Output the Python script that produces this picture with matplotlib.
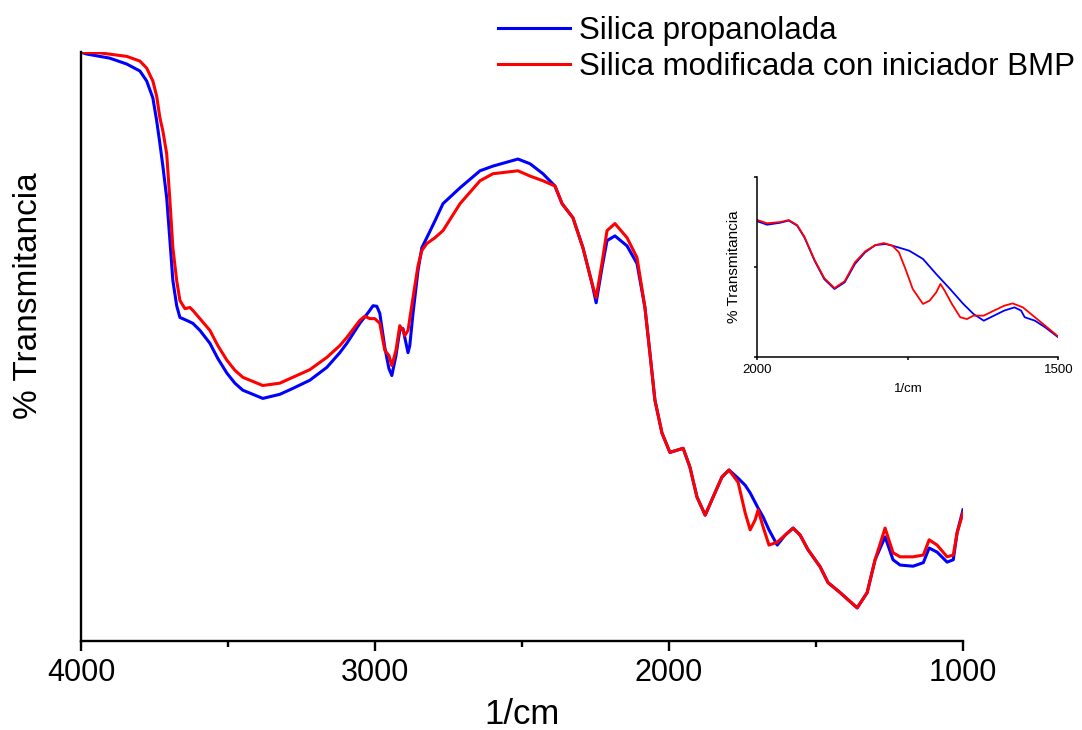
import numpy as np
import matplotlib
matplotlib.use("Agg")
import matplotlib.pyplot as plt
from matplotlib.ticker import MultipleLocator

plt.rcParams['font.family'] = ['Liberation Sans', 'DejaVu Sans']

# main spectrum, wavenumber (1/cm) vs transmittance (arb. %)
wn_blue = [4000, 3981, 3903, 3845, 3800, 3777, 3756, 3743, 3732, 3722, 3709, 3698, 3688, 3675,
           3664, 3641, 3620, 3596, 3562, 3535, 3504, 3477, 3450, 3382, 3324, 3280, 3222, 3164,
           3120, 3096, 3052, 3024, 3007, 2994, 2984, 2967, 2953, 2943, 2929, 2916, 2905, 2899,
           2888, 2882, 2871, 2854, 2841, 2824, 2796, 2769, 2711, 2643, 2599, 2514, 2473, 2429,
           2388, 2364, 2327, 2293, 2262, 2248, 2228, 2211, 2184, 2143, 2109, 2082, 2065, 2048,
           2024, 1997, 1952, 1929, 1905, 1877, 1850, 1820, 1796, 1765, 1741, 1724, 1697, 1680,
           1660, 1632, 1605, 1578, 1554, 1527, 1486, 1459, 1418, 1360, 1326, 1299, 1265, 1238,
           1214, 1170, 1135, 1115, 1088, 1054, 1033, 1020, 1000]
t_blue = [99.8, 99.5, 98.8, 97.8, 96.6, 94.9, 92.0, 88.1, 84.2, 80.4, 75.0, 67.7, 60.9, 56.6,
          54.6, 54.1, 53.6, 52.4, 50.2, 47.6, 45.1, 43.4, 42.2, 40.8, 41.5, 42.5, 43.9, 46.1,
          48.6, 50.2, 53.6, 55.4, 56.6, 56.5, 55.3, 49.5, 45.9, 44.7, 48.1, 52.4, 52.7, 51.2,
          48.6, 49.8, 55.3, 62.6, 66.5, 68.2, 71.1, 74.0, 76.7, 79.6, 80.4, 81.6, 80.8, 79.1,
          77.0, 74.0, 71.6, 66.5, 60.4, 57.1, 63.1, 67.7, 68.5, 66.8, 63.8, 56.3, 48.5, 40.5,
          34.9, 31.6, 32.3, 29.1, 24.0, 20.9, 24.0, 27.4, 28.6, 27.2, 26.0, 24.7, 22.1, 20.6,
          18.4, 15.8, 17.5, 18.7, 17.5, 15.0, 12.1, 9.4, 7.7, 5.1, 7.7, 13.3, 17.2, 13.3,
          12.4, 12.2, 12.8, 15.3, 14.6, 12.9, 13.3, 17.9, 21.8]

wn_red = [4000, 3937, 3845, 3800, 3777, 3756, 3743, 3732, 3722, 3709, 3698, 3688, 3675, 3664,
          3647, 3630, 3620, 3596, 3562, 3535, 3504, 3477, 3450, 3382, 3324, 3280, 3222, 3164,
          3120, 3096, 3052, 3035, 3018, 3001, 2984, 2967, 2953, 2943, 2929, 2916, 2905, 2899,
          2888, 2871, 2854, 2841, 2824, 2796, 2769, 2711, 2643, 2599, 2514, 2473, 2429, 2388,
          2364, 2327, 2293, 2262, 2248, 2228, 2211, 2184, 2143, 2109, 2082, 2065, 2048, 2024,
          1997, 1952, 1929, 1905, 1877, 1850, 1820, 1796, 1765, 1741, 1724, 1707, 1697, 1680,
          1660, 1632, 1605, 1578, 1554, 1527, 1486, 1459, 1418, 1360, 1326, 1299, 1265, 1238,
          1214, 1170, 1135, 1115, 1088, 1054, 1033, 1020, 1000]
t_red = [99.8, 99.7, 99.1, 98.3, 97.1, 94.9, 92.3, 88.6, 86.4, 82.5, 74.5, 66.5, 60.9, 57.5,
         56.1, 56.3, 55.8, 54.4, 52.4, 49.8, 47.3, 45.6, 44.4, 43.0, 43.4, 44.4, 45.7, 47.8,
         49.8, 51.2, 54.1, 54.8, 54.4, 54.4, 53.6, 49.0, 48.1, 46.4, 49.0, 53.2, 52.4, 51.5,
         52.4, 58.0, 63.4, 66.0, 67.2, 68.2, 69.4, 74.0, 77.9, 79.1, 79.6, 78.7, 77.9, 77.0,
         74.0, 71.6, 66.5, 60.4, 58.0, 63.9, 69.4, 70.6, 68.2, 64.8, 56.3, 48.5, 40.5, 34.9,
         31.6, 32.3, 29.1, 24.0, 20.9, 24.0, 27.4, 28.6, 26.5, 21.3, 18.4, 20.1, 21.8, 18.9,
         15.8, 16.3, 17.5, 18.7, 17.5, 15.0, 12.1, 9.4, 7.7, 5.1, 7.7, 13.3, 18.7, 14.5,
         13.8, 13.8, 14.1, 16.7, 15.8, 13.8, 14.1, 17.9, 21.3]

# inset: 2000-1500 1/cm rescaled
wn_in_blue = [2000, 1984, 1962, 1948, 1934, 1922, 1905, 1889, 1872, 1855, 1838, 1821, 1804, 1787,
              1770, 1748, 1725, 1703, 1680, 1658, 1641, 1624, 1607, 1590, 1573, 1562, 1556, 1539,
              1522, 1500]
t_in_blue = [75.2, 73.3, 74.4, 75.6, 72.8, 66.3, 53.3, 43.1, 37.6, 41.3, 51.5, 58.0, 62.0, 62.6,
             61.1, 58.9, 54.3, 45.9, 37.6, 29.3, 23.7, 20.0, 22.8, 25.6, 27.4, 25.6, 21.9, 20.0,
             16.3, 10.7]
wn_in_red = [2000, 1984, 1962, 1948, 1934, 1922, 1905, 1889, 1872, 1855, 1838, 1821, 1804, 1790,
             1776, 1765, 1753, 1742, 1725, 1714, 1703, 1696, 1689, 1677, 1663, 1652, 1641, 1624,
             1607, 1590, 1576, 1559, 1539, 1522, 1500]
t_in_red = [75.9, 74.1, 74.8, 75.9, 73.1, 66.7, 53.7, 43.7, 38.1, 41.9, 52.4, 58.5, 62.0, 63.1,
            61.7, 58.0, 47.8, 37.6, 29.3, 31.1, 35.7, 40.4, 36.7, 29.3, 21.9, 20.9, 22.8, 22.8,
            25.6, 28.3, 29.6, 27.4, 21.9, 17.2, 11.1]

labels = ["Silica propanolada", "Silica modificada con iniciador BMP"]
blue = "#0000FF"
red = "#FF0000"

fig = plt.figure(figsize=(10.82, 7.30), dpi=100)
ax = fig.add_axes([0.0750, 0.1215, 0.815, 0.8077])

l1, = ax.plot(wn_blue, t_blue, color=blue, lw=2.2)
l2, = ax.plot(wn_red, t_red, color=red, lw=2.2)

ax.set_xlim(4000, 1000)
ax.set_ylim(-0.6, 99.9)
ax.spines['top'].set_visible(False)
ax.spines['right'].set_visible(False)
ax.spines['left'].set_linewidth(1.7)
ax.spines['bottom'].set_linewidth(1.7)
ax.set_yticks([])
ax.set_xticks([4000, 3000, 2000, 1000])
ax.xaxis.set_minor_locator(MultipleLocator(500))
ax.tick_params(axis='x', which='major', length=7.2, width=1.7, labelsize=22, pad=5)
ax.tick_params(axis='x', which='minor', length=4.5, width=1.7)
ax.set_xlabel("1/cm", fontsize=25, labelpad=7)
ax.set_ylabel("% Transmitancia", fontsize=24)
ax.yaxis.set_label_coords(-0.042, 0.586)

fig.legend([l1, l2], labels, loc='upper left', bbox_to_anchor=(498 / 1082, 1 - 16 / 730),
           frameon=False, fontsize=22.5, handlelength=2.3, handletextpad=0.3,
           labelspacing=0.2, borderpad=0, borderaxespad=0)

# inset
axi = fig.add_axes([0.7, 0.5114, 0.2782, 0.2466])
axi.plot(wn_in_blue, t_in_blue, color=blue, lw=1.3)
axi.plot(wn_in_red, t_in_red, color=red, lw=1.3)
axi.set_xlim(2000, 1500)
axi.set_ylim(0, 100)
axi.spines['top'].set_visible(False)
axi.spines['right'].set_visible(False)
axi.spines['left'].set_linewidth(1.1)
axi.spines['bottom'].set_linewidth(1.1)
axi.set_xticks([2000, 1500])
axi.xaxis.set_minor_locator(MultipleLocator(250))
axi.set_yticks([0, 50, 100])
axi.set_yticklabels([])
axi.tick_params(axis='both', which='both', length=2.5, width=1.1, labelsize=9.5, pad=2.5)
axi.set_xlabel("1/cm", fontsize=9.5, labelpad=5)
axi.set_ylabel("% Transmitancia", fontsize=11, labelpad=7)

fig.savefig("out.png", dpi=100)
